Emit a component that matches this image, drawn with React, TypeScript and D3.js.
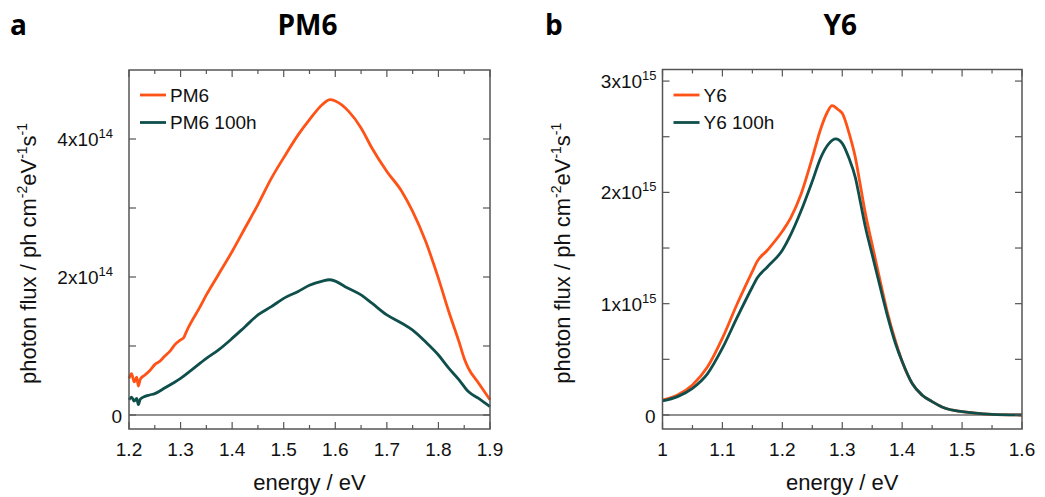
import React from "react";
import * as d3 from "d3";

// ---- PM6 emission spectra (flux in units of 1e14 ph cm^-2 eV^-1 s^-1) ----
const pm6Energy = [
  1.2, 1.205, 1.21, 1.215, 1.218, 1.222, 1.231, 1.24, 1.25, 1.26, 1.269, 1.28, 1.289,
  1.3, 1.306, 1.312, 1.321, 1.335, 1.35, 1.373, 1.4, 1.425, 1.45, 1.476, 1.5, 1.528,
  1.55, 1.575, 1.59, 1.6, 1.626, 1.65, 1.671, 1.7, 1.729, 1.75, 1.775, 1.8, 1.82, 1.84,
  1.85, 1.858, 1.878, 1.9,
];
const pm6Flux = [
  0.53, 0.6, 0.48, 0.55, 0.42, 0.52, 0.58, 0.64, 0.73, 0.78, 0.85, 0.93, 1.02,
  1.09, 1.12, 1.22, 1.35, 1.53, 1.74, 2.03, 2.37, 2.71, 3.05, 3.43, 3.73, 4.06,
  4.28, 4.5, 4.57, 4.55, 4.4, 4.16, 3.87, 3.53, 3.24, 2.95, 2.52, 1.98, 1.5, 1.06,
  0.82, 0.68, 0.46, 0.22,
];
const pm6AgedEnergy = [
  1.2, 1.205, 1.21, 1.215, 1.218, 1.222, 1.231, 1.24, 1.25, 1.269, 1.285, 1.3, 1.321,
  1.35, 1.373, 1.4, 1.425, 1.45, 1.476, 1.5, 1.528, 1.55, 1.575, 1.588, 1.6, 1.619,
  1.65, 1.671, 1.7, 1.729, 1.75, 1.775, 1.8, 1.82, 1.84, 1.858, 1.878, 1.9,
];
const pm6AgedFlux = [
  0.22, 0.26, 0.2, 0.24, 0.15, 0.23, 0.27, 0.29, 0.31, 0.39, 0.46, 0.53, 0.65,
  0.82, 0.94, 1.11, 1.28, 1.45, 1.57, 1.69, 1.79, 1.88, 1.94, 1.96, 1.94, 1.86,
  1.74, 1.62, 1.45, 1.33, 1.23, 1.06, 0.87, 0.68, 0.51, 0.34, 0.24, 0.12,
];

// ---- Y6 emission spectra (flux in units of 1e15 ph cm^-2 eV^-1 s^-1) ----
const y6Energy = [
  1.0, 1.025, 1.05, 1.075, 1.1, 1.124, 1.15, 1.158, 1.175, 1.2, 1.214, 1.231, 1.25,
  1.264, 1.275, 1.283, 1.294, 1.3, 1.311, 1.322, 1.33, 1.339, 1.35, 1.361, 1.375,
  1.389, 1.4, 1.417, 1.433, 1.45, 1.472, 1.5, 1.55, 1.6,
];
const y6Flux = [
  0.135, 0.18, 0.27, 0.43, 0.69, 0.99, 1.29, 1.38, 1.48, 1.65, 1.77, 1.98, 2.31,
  2.57, 2.72, 2.78, 2.74, 2.71, 2.54, 2.31, 2.07, 1.8, 1.53, 1.26, 0.93,
  0.66, 0.48, 0.28, 0.18, 0.12, 0.06, 0.03, 0.006, 0.0,
];
const y6AgedEnergy = [
  1.0, 1.025, 1.05, 1.075, 1.1, 1.124, 1.15, 1.158, 1.175, 1.2, 1.214, 1.231, 1.25,
  1.264, 1.278, 1.289, 1.3, 1.311, 1.322, 1.33, 1.339, 1.35, 1.361, 1.375, 1.389,
  1.4, 1.417, 1.433, 1.45, 1.472, 1.5, 1.55, 1.6,
];
const y6AgedFlux = [
  0.126, 0.165, 0.24, 0.37, 0.6, 0.87, 1.15, 1.23, 1.33, 1.48, 1.62, 1.83, 2.1,
  2.31, 2.44, 2.48, 2.44, 2.31, 2.13, 1.92, 1.68, 1.44, 1.2, 0.9, 0.64,
  0.48, 0.28, 0.18, 0.12, 0.06, 0.03, 0.006, 0.0,
];

// ---- axis ticks ----
const pm6XTicks = [1.2, 1.3, 1.4, 1.5, 1.6, 1.7, 1.8, 1.9];
const pm6YLabelled = [0, 2, 4];
const pm6YTicks = [0, 1, 2, 3, 4];
const y6XTicks = [1.0, 1.1, 1.2, 1.3, 1.4, 1.5, 1.6];
const y6YLabelled = [0, 1, 2, 3];
const y6YTicks = [0, 0.5, 1, 1.5, 2, 2.5, 3];

const ORANGE = "#ff5216";
const TEAL = "#0f4f4b";
const FRAME = "#555";
const SANS = "'Liberation Sans', Arial, sans-serif";
const BOLD = "'Open Sans', 'Liberation Sans', sans-serif";

type Series = { x: number[]; y: number[]; color: string; name: string };

type PanelProps = {
  letter: string;
  title: string;
  left: number;
  right: number;
  top: number;
  bottom: number;
  xDomain: [number, number];
  yDomain: [number, number];
  xTicks: number[];
  yTicks: number[];
  yLabelled: number[];
  exponent: string;
  labelGap: number;
  yTitleX: number;
  series: Series[];
};

function fmtX(v: number) {
  return v === 1 ? "1" : v.toFixed(1);
}

function Panel(p: PanelProps) {
  const x = d3.scaleLinear().domain(p.xDomain).range([p.left, p.right]);
  const y = d3.scaleLinear().domain(p.yDomain).range([p.bottom, p.top]);
  const line = d3
    .line<[number, number]>()
    .x((d) => x(d[0]))
    .y((d) => y(d[1]))
    .curve(d3.curveMonotoneX);

  const step = p.xTicks[1] - p.xTicks[0];
  const minorX = d3.range(p.xTicks.length - 1).map((i) => p.xTicks[i] + step / 2);
  const major = 7;
  const minor = 4;
  const cx = (p.left + p.right) / 2;
  const cy = (p.top + p.bottom) / 2 + 4;

  return (
    <g>
      <text x={p.letter === "a" ? 10 : 545} y={35} fontFamily={BOLD} fontWeight={700} fontSize={28}>
        {p.letter}
      </text>
      <text x={cx - 2} y={35} textAnchor="middle" fontFamily={BOLD} fontWeight={700} fontSize={28}>
        {p.title}
      </text>

      {/* zero baseline */}
      <line x1={p.left} x2={p.right} y1={y(0)} y2={y(0)} stroke="#222" strokeWidth={1.2} />

      {/* spectra */}
      {p.series.map((s) => (
        <path
          key={s.name}
          d={line(s.x.map((v, i) => [v, s.y[i]] as [number, number])) || ""}
          fill="none"
          stroke={s.color}
          strokeWidth={2.8}
          strokeLinejoin="round"
        />
      ))}

      {/* frame */}
      <rect
        x={p.left}
        y={p.top}
        width={p.right - p.left}
        height={p.bottom - p.top}
        fill="none"
        stroke={FRAME}
        strokeWidth={1.5}
      />

      {/* x ticks, inward on bottom and top */}
      {p.xTicks.map((t) => (
        <g key={"xt" + t}>
          <line x1={x(t)} x2={x(t)} y1={p.bottom} y2={p.bottom - major} stroke={FRAME} strokeWidth={1.2} />
          <line x1={x(t)} x2={x(t)} y1={p.top} y2={p.top + major} stroke={FRAME} strokeWidth={1.2} />
          <text x={x(t)} y={p.bottom + 27} textAnchor="middle" fontFamily={SANS} fontSize={19} fill="#111">
            {fmtX(t)}
          </text>
        </g>
      ))}
      {minorX.map((t) => (
        <g key={"xm" + t}>
          <line x1={x(t)} x2={x(t)} y1={p.bottom} y2={p.bottom - minor} stroke={FRAME} strokeWidth={1.2} />
          <line x1={x(t)} x2={x(t)} y1={p.top} y2={p.top + minor} stroke={FRAME} strokeWidth={1.2} />
        </g>
      ))}

      {/* y ticks, inward on left and right */}
      {p.yTicks.map((t) => (
        <g key={"yt" + t}>
          <line x1={p.left} x2={p.left + major} y1={y(t)} y2={y(t)} stroke={FRAME} strokeWidth={1.2} />
          <line x1={p.right} x2={p.right - major} y1={y(t)} y2={y(t)} stroke={FRAME} strokeWidth={1.2} />
        </g>
      ))}
      {p.yLabelled.map((t) =>
        t === 0 ? (
          <text key={"yl" + t} x={p.left - 7} y={y(t) + 8} textAnchor="end" fontFamily={SANS} fontSize={19} fill="#111">
            0
          </text>
        ) : (
          <text key={"yl" + t} x={p.left - p.labelGap} y={y(t) + 7} textAnchor="end" fontFamily={SANS} fontSize={19} fill="#111">
            {t + "x10"}
            <tspan dy={-8} fontSize={13}>
              {p.exponent}
            </tspan>
          </text>
        )
      )}

      {/* axis titles */}
      <text x={cx} y={490} textAnchor="middle" fontFamily={SANS} fontSize={22} fill="#111">
        energy / eV
      </text>
      <text
        transform={`translate(${p.yTitleX},${cy}) rotate(-90)`}
        textAnchor="middle"
        fontFamily={SANS}
        fontSize={22}
        fill="#111"
      >
        photon flux / ph cm
        <tspan dy={-9} fontSize={14}>-2</tspan>
        <tspan dy={9}>eV</tspan>
        <tspan dy={-9} fontSize={14}>-1</tspan>
        <tspan dy={9}>s</tspan>
        <tspan dy={-9} fontSize={14}>-1</tspan>
      </text>

      {/* legend */}
      {p.series.map((s, i) => (
        <g key={"lg" + s.name}>
          <line
            x1={p.left + 11}
            x2={p.left + 37}
            y1={95 + i * 27.5}
            y2={95 + i * 27.5}
            stroke={s.color}
            strokeWidth={2.8}
          />
          <text x={p.left + 41} y={101.5 + i * 27.5} fontFamily={SANS} fontSize={19} fill="#111">
            {s.name}
          </text>
        </g>
      ))}
    </g>
  );
}

export default function App() {
  return (
    <svg width={1045} height={497} style={{ display: "block", position: "absolute", left: 0, top: 0 }}>
      <rect width={1045} height={497} fill="#fff" />
      <Panel
        letter="a"
        title="PM6"
        left={129}
        right={490}
        top={70}
        bottom={429}
        xDomain={[1.2, 1.9]}
        yDomain={[-0.203, 5.0]}
        xTicks={pm6XTicks}
        yTicks={pm6YTicks}
        yLabelled={pm6YLabelled}
        exponent="14"
        labelGap={16}
        yTitleX={36}
        series={[
          { x: pm6Energy, y: pm6Flux, color: ORANGE, name: "PM6" },
          { x: pm6AgedEnergy, y: pm6AgedFlux, color: TEAL, name: "PM6 100h" },
        ]}
      />
      <Panel
        letter="b"
        title="Y6"
        left={662.5}
        right={1022}
        top={69.5}
        bottom={429}
        xDomain={[1.0, 1.6]}
        yDomain={[-0.126, 3.104]}
        xTicks={y6XTicks}
        yTicks={y6YTicks}
        yLabelled={y6YLabelled}
        exponent="15"
        labelGap={6}
        yTitleX={570}
        series={[
          { x: y6Energy, y: y6Flux, color: ORANGE, name: "Y6" },
          { x: y6AgedEnergy, y: y6AgedFlux, color: TEAL, name: "Y6 100h" },
        ]}
      />
    </svg>
  );
}
